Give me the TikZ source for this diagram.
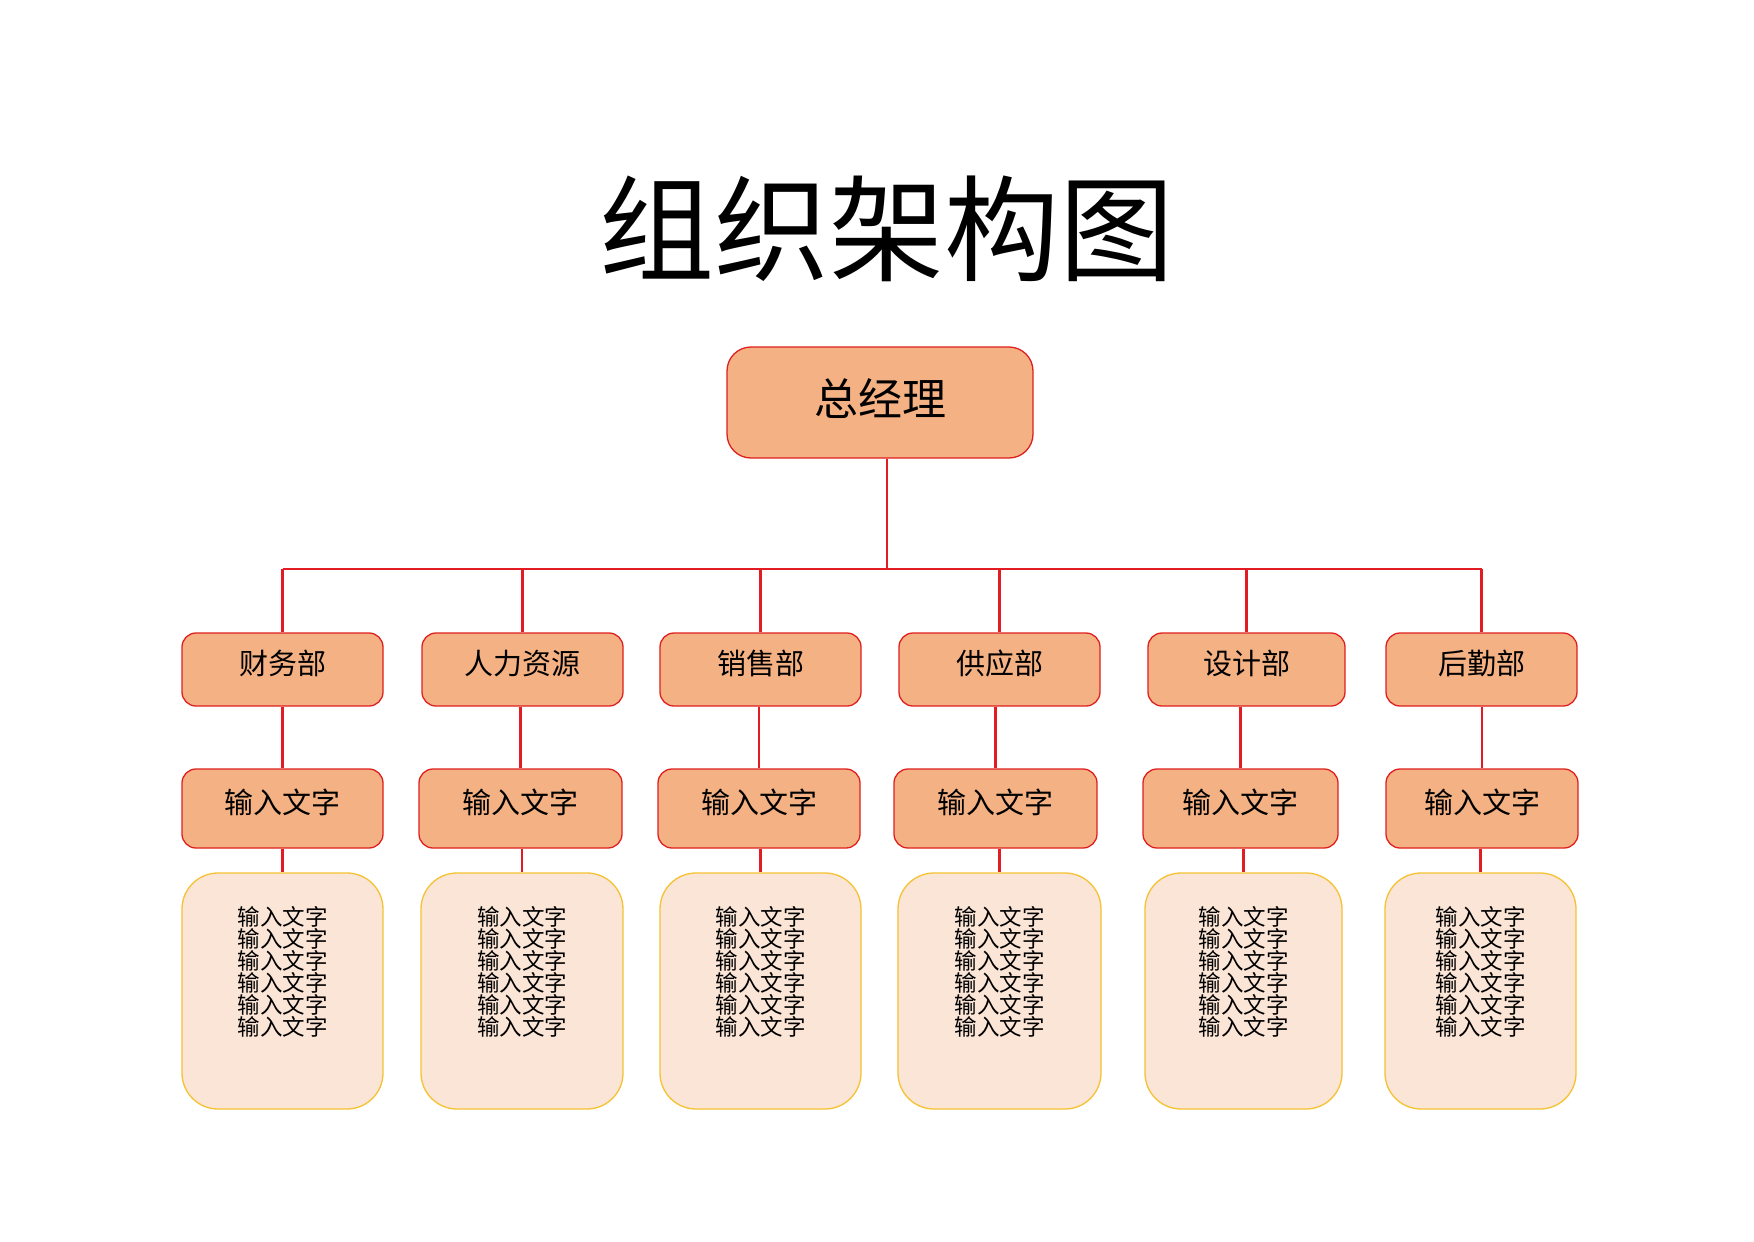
\documentclass[tikz,border=0pt]{standalone}
\usepackage{fontspec}
\setmainfont{Noto Sans CJK SC}
\usetikzlibrary{calc}
\definecolor{boxfill}{HTML}{F4B183}
\definecolor{boxline}{HTML}{E0201E}
\definecolor{linkred}{HTML}{E31B23}
\definecolor{lightfill}{HTML}{FBE5D6}
\definecolor{yellowline}{HTML}{F5C232}
\begin{document}
\begin{tikzpicture}[x=1pt,y=-1pt,
  orgbox/.style={draw=boxline, fill=boxfill, line width=1.3pt, rounded corners=14pt, inner sep=0pt},
  topbox/.style={orgbox, rounded corners=24pt},
  midlabel/.style={inner sep=0pt, font=\fontsize{29}{34}\selectfont},
  toplabel/.style={inner sep=0pt, font=\fontsize{44}{50}\selectfont},
  listbox/.style={draw=yellowline, fill=lightfill, line width=1.3pt, rounded corners=36pt, inner sep=0pt},
  listtext/.style={anchor=north, inner sep=0pt, align=center, font=\fontsize{22.5}{22}\selectfont},
  link/.style={draw=linkred, line width=2.2pt}]
\useasboundingbox (0,0) rectangle (1754,1242);
\fill[white] (0,0) rectangle (1754,1242);
\node (title) at (887,229) {\fontsize{115}{115}\selectfont 组织架构图};
\node[topbox, minimum width=306pt, minimum height=111pt, label={[toplabel, yshift=3.5pt]center:总经理}] (top) at (880,402.5) {};
\coordinate (bar) at (887,569);
% departments
\foreach \n/\x/\w/\t in {1/282.5/201/财务部, 2/522.5/201/人力资源, 3/760.5/201/销售部, 4/999.5/201/供应部, 5/1246.5/197/设计部, 6/1481.5/191/后勤部}{
  \node[orgbox, minimum width=\w pt, minimum height=73pt, label={[midlabel, yshift=6pt]center:\t}] (d\n) at (\x,669.5) {};
}
\foreach \n/\x/\w in {1/282.5/201, 2/520.5/203, 3/759/202, 4/995.5/203, 5/1240.5/195, 6/1482/192}{
  \node[orgbox, minimum width=\w pt, minimum height=79pt, label={[midlabel, yshift=6.5pt]center:输入文字}] (s\n) at (\x,808.5) {};
}
\foreach \n/\x/\w in {1/282.5/201, 2/522/202, 3/760.5/201, 4/999.5/203, 5/1243.5/197, 6/1480.5/191}{
  \node[listbox, minimum width=\w pt, minimum height=236pt] (t\n) at (\x,991) {};
  \node[listtext] (tx\n) at ($(t\n.north)+(0,34)$) {输入文字\\输入文字\\输入文字\\输入文字\\输入文字\\输入文字};
}
% connectors
\draw[link] (top.south -| bar) -- (bar);
\draw[link] (d1.north |- bar) -- (d6.north |- bar);
\foreach \n in {1,...,6}{
  \draw[link] (d\n.north |- bar) -- (d\n.north);
  \draw[link] (s\n.north |- d\n.south) -- (s\n.north);
  \draw[link] (t\n.north |- s\n.south) -- (t\n.north);
}
\end{tikzpicture}
\end{document}
